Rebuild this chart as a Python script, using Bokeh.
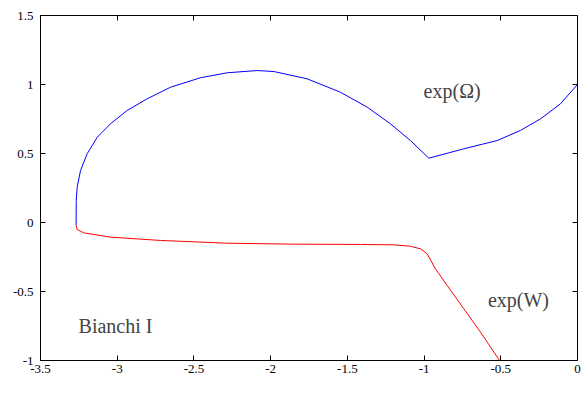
from bokeh.plotting import figure
from bokeh.models import LinearAxis, FixedTicker, Label, Range1d
from bokeh.embed import file_html
from bokeh.resources import INLINE

# ---- data ----
x_ticks = [-3.5, -3.0, -2.5, -2.0, -1.5, -1.0, -0.5, 0.0]
x_tick_labels = ["-3.5", "-3", "-2.5", "-2", "-1.5", "-1", "-0.5", "0"]
y_ticks = [-1.0, -0.5, 0.0, 0.5, 1.0, 1.5]
y_tick_labels = ["-1", "-0.5", "0", "0.5", "1", "1.5"]

omega_x = [-3.268, -3.267, -3.261, -3.239, -3.196, -3.130, -3.044, -2.935, -2.805,
           -2.653, -2.457, -2.283, -2.088, -1.979, -1.762, -1.545, -1.371, -1.219,
           -1.089, -0.969, -0.741, -0.523, -0.372, -0.241, -0.111, 0.0]
omega_y = [-0.02, 0.159, 0.256, 0.377, 0.498, 0.618, 0.715, 0.812, 0.896,
           0.980, 1.049, 1.085, 1.101, 1.094, 1.041, 0.944, 0.836, 0.715,
           0.594, 0.466, 0.534, 0.594, 0.667, 0.751, 0.860, 1.0]

w_x = [-3.268, -3.267, -3.261, -3.218, -3.044, -2.718, -2.283, -1.849, -1.414,
       -1.197, -1.089, -1.023, -0.980, -0.926, -0.849, -0.741, -0.632, -0.508]
w_y = [-0.02, -0.022, -0.051, -0.075, -0.106, -0.130, -0.150, -0.157, -0.159,
       -0.162, -0.172, -0.191, -0.227, -0.336, -0.457, -0.625, -0.795, -1.0]

FONT = "Liberation Serif"

p = figure(width=585, height=394,
           x_range=Range1d(-3.5, 0.0), y_range=Range1d(-1.0, 1.5),
           output_backend="svg", toolbar_location=None,
           min_border_left=40, min_border_right=8,
           min_border_top=15, min_border_bottom=34)
p.background_fill_color = "white"
p.border_fill_color = "white"
p.outline_line_color = "black"
p.outline_line_width = 1
p.xgrid.visible = False
p.ygrid.visible = False

p.add_layout(LinearAxis(), "above")
p.add_layout(LinearAxis(), "right")

x_over = {t: l for t, l in zip(x_ticks, x_tick_labels)}
y_over = {t: l for t, l in zip(y_ticks, y_tick_labels)}

for ax in p.axis:
    ax.major_tick_in = 5
    ax.major_tick_out = 0
    ax.minor_tick_line_color = None
    ax.axis_line_color = None
    ax.major_tick_line_color = "black"
    ax.major_label_text_font = FONT
    ax.major_label_text_font_size = "13px"
    ax.major_label_text_color = "black"

for ax in p.xaxis:
    ax.ticker = FixedTicker(ticks=x_ticks)
    ax.major_label_overrides = x_over
for ax in p.yaxis:
    ax.ticker = FixedTicker(ticks=y_ticks)
    ax.major_label_overrides = y_over

p.below[0].major_label_standoff = 4
p.left[0].major_label_standoff = 7
# mirror axes (gnuplot style): ticks only, no labels drawn
for ax in (p.above[0], p.right[0]):
    ax.major_label_text_font_size = "1px"
    ax.major_label_text_color = None
    ax.major_label_standoff = 0

p.line(omega_x, omega_y, line_color="#0000ff", line_width=1)
p.line(w_x, w_y, line_color="#ff0000", line_width=1)

p.add_layout(Label(x=-0.817, y=0.951, text="exp(Ω)", text_font=FONT,
                   text_font_size="20px", text_align="center", text_baseline="middle"))
p.add_layout(Label(x=-0.385, y=-0.558, text="exp(W)", text_font=FONT,
                   text_font_size="20px", text_align="center", text_baseline="middle"))
p.add_layout(Label(x=-3.011, y=-0.752, text="Bianchi I", text_font=FONT,
                   text_font_size="20px", text_align="center", text_baseline="middle"))
p.add_layout(Label(x=-1.755, y=-1.2355, text="Ht", text_font=FONT,
                   text_font_size="17px", text_align="center", text_baseline="bottom"))

open("out.html", "w").write(file_html(p, INLINE))
